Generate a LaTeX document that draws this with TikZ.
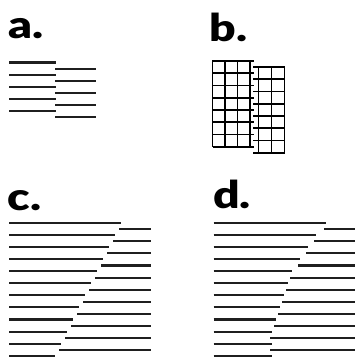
\documentclass[tikz,border=0pt]{standalone}
\usepackage{fontspec}
\newfontfamily\lblfont{Lato Black}[FakeStretch=1.22]
\begin{document}
\begin{tikzpicture}[x=1pt,y=-1pt,
  ln/.style={line width=2.1pt,color=black!88},
  gl/.style={line width=1.9pt,color=black},
  lbl/.style={anchor=base west,inner sep=0pt,font=\lblfont\fontsize{38}{40}\selectfont}]
\useasboundingbox (0,0) rectangle (355,358);
% labels
\node[lbl] (la) at (8,38.5) {a.};
\node[lbl] (lb) at (209.5,42) {b.};
\node[lbl] (lc) at (7.5,210) {c.};
\node[lbl] (ld) at (213,208) {d.};
% panel a
\foreach \k in {0,...,4}{
  \draw[ln] (9,62.5+12.1*\k) -- (55.5,62.5+12.1*\k);
  \draw[ln] (55,68.8+12.1*\k) -- (96,68.8+12.1*\k);
}
% panel b
\foreach \k in {0,...,7}{
  \draw[gl] (212.5,61+12.25*\k) -- (254,61+12.25*\k);
  \draw[gl] (253,67+12.25*\k) -- (284.5,67+12.25*\k);
}
\foreach \x in {212.5,225,237.5,250}{
  \draw[gl] (\x,60.1) -- (\x,146.6);
}
\foreach \x in {258.5,271.5,284.5}{
  \draw[gl] (\x,66.1) -- (\x,152.6);
}
% panel c
\foreach \k in {0,...,11}{
  \draw[ln] (9,222.7+12.1*\k) -- (121-6*\k,222.7+12.1*\k);
}
\foreach \k in {0,...,10}{
  \draw[ln] (119.3-6*\k,229.2+12.1*\k) -- (151,229.2+12.1*\k);
}
% panel d
\foreach \e [count=\i from 0] in {326,316,308,300,292,288,284,280,276,272,272,272}{
  \draw[ln] (213.5,222.7+12.1*\i) -- (\e,222.7+12.1*\i);
}
\foreach \s [count=\i from 0] in {324,314,306,298,290,286,282,278,274,270,270}{
  \draw[ln] (\s,229.2+12.1*\i) -- (355,229.2+12.1*\i);
}
\end{tikzpicture}
\end{document}
